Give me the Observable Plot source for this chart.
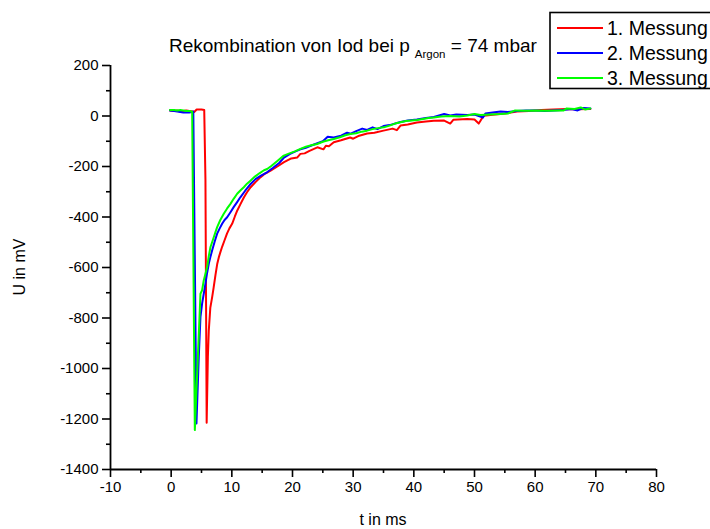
<!DOCTYPE html>
<html><head><meta charset="utf-8">
<script src="https://cdn.jsdelivr.net/npm/d3@7"></script>
<script src="https://cdn.jsdelivr.net/npm/@observablehq/plot@0.6"></script>
<style>
html,body{margin:0;padding:0;background:#fff;overflow:hidden;}
#chart{position:relative;width:710px;height:529px;overflow:hidden;}
</style></head><body><div id="chart"></div>
<script>
// Series 1 (red)
const t1 = [-0.2,0.5,1.0,1.5,2.0,2.5,3.0,3.5,3.8,4.2,4.6,5.0,5.45,5.65,5.85,6.05,6.2,6.45,6.75,7.0,7.3,7.6,7.85,8.1,8.4,8.8,9.2,9.6,10.05,10.5,10.9,11.4,12.0,12.5,13.1,13.9,14.7,15.5,16.4,17.5,18.6,19.8,20.8,21.3,22.0,22.8,24.1,25.1,25.5,26.0,26.8,28.0,29.5,30.0,31.0,32.3,33.5,35.0,36.5,37.2,37.8,39.0,40.5,42.0,43.3,45.0,46.0,46.5,48.8,50.0,50.7,51.5,53.0,55.0,57.0,59.0,61.0,63.0,65.3,67.0,69.1];
const u1 = [22,20,22,18,20,22,20,18,16,26,26,26,24,-250,-1215,-954,-850,-760,-718,-680,-630,-585,-560,-540,-518,-492,-466,-445,-427,-398,-374,-350,-322,-302,-282,-262,-243,-228,-216,-200,-183,-168,-164,-150,-148,-138,-124,-132,-118,-120,-104,-96,-85,-90,-78,-69,-66,-58,-50,-56,-38,-34,-26,-22,-19,-18,-30,-15,-12,-14,-30,1,5,10,18,20,24,26,28,27,28];
// Series 2 (blue)
const t2 = [-0.2,0.5,1.0,1.5,2.0,2.5,3.0,3.4,3.65,4.17,4.55,4.83,5.1,5.4,5.65,5.9,6.2,6.5,6.76,7.2,7.58,8.0,8.4,8.8,9.23,9.8,10.3,10.9,11.4,12.2,13.1,13.9,14.8,15.8,16.8,17.8,18.6,19.6,20.5,21.3,22.2,23.0,24.1,25.0,25.8,26.8,28.0,29.0,29.6,30.5,31.5,32.3,33.2,34.0,35.0,36.0,37.8,39.0,40.5,42.0,43.3,45.0,46.0,47.0,48.8,50.0,51.4,51.8,53.0,54.3,55.5,57.0,58.5,60.0,61.5,63.0,64.5,66.0,67.0,68.0,69.1];
const u2 = [22,20,18,16,14,14,14,16,18,-1218,-954,-796,-743,-700,-664,-625,-585,-555,-532,-495,-466,-445,-427,-412,-401,-380,-361,-340,-322,-296,-269,-250,-236,-223,-205,-186,-165,-150,-140,-132,-126,-118,-108,-100,-82,-85,-78,-66,-70,-60,-50,-55,-45,-52,-40,-36,-24,-18,-14,-8,-4,8,2,6,4,6,-6,10,14,18,16,20,22,22,20,22,24,28,22,32,30];
// Series 3 (green)
const t3 = [-0.2,0.5,1.0,1.5,2.0,2.5,3.0,3.3,3.46,3.9,4.83,5.1,5.37,5.65,5.93,6.2,6.48,6.75,7.02,7.3,7.58,8.1,8.67,9.2,9.77,10.3,10.88,11.4,11.97,12.5,13.07,13.8,14.6,15.3,15.82,16.5,17.5,18.56,19.5,20.4,21.3,22.2,23.1,24.06,25.0,25.9,26.8,27.8,28.7,29.55,30.5,31.4,32.3,33.2,34.1,35.04,36.0,36.9,37.8,38.7,39.6,40.55,41.5,42.4,43.3,44.5,46.0,47.5,48.8,50.0,51.0,52.5,54.3,55.5,56.7,58.0,60.0,62.0,64.0,64.7,65.2,66.5,67.5,68.2,69.1];
const u3 = [24,24,22,24,22,20,20,18,16,-1244,-704,-690,-651,-625,-598,-555,-519,-500,-480,-460,-440,-412,-387,-367,-348,-328,-308,-295,-282,-268,-256,-240,-226,-215,-210,-198,-178,-157,-148,-140,-130,-122,-116,-111,-102,-96,-91,-84,-76,-71,-68,-62,-58,-52,-48,-45,-38,-30,-25,-20,-18,-16,-12,-8,-6,-2,0,-2,2,8,4,6,8,10,22,21,22,21,22,22,30,28,34,26,30];

const seriesNames = ["1. Messung","2. Messung","3. Messung"];
const seriesColors = ["#ff0000","#0000ff","#00ff00"];
const xTicks = [-10,0,10,20,30,40,50,60,70,80];
const xMinor = [-5,5,15,25,35,45,55,65,75];
const yTicks = [-1400,-1200,-1000,-800,-600,-400,-200,0,200];
const yMinor = [-1300,-1100,-900,-700,-500,-300,-100,100];

const series = [[t1,u1],[t2,u2],[t3,u3]];
const data = series.flatMap(([ts,us],k) => ts.map((t,i) => ({t, u: us[i], s: seriesNames[k]})));

const font = "'Liberation Sans', Arial, sans-serif";
const plot = Plot.plot({
  width: 710, height: 529,
  marginLeft: 110, marginRight: 54, marginTop: 65, marginBottom: 60,
  style: {fontFamily: font, fontSize: "15px", background: "white", color: "black"},
  x: {domain: [-10, 80]},
  y: {domain: [-1400, 200]},
  color: {domain: seriesNames, range: seriesColors},
  marks: [
    Plot.axisX({ticks: xTicks, tickSize: 8, tickPadding: 4, tickFormat: d => String(d), label: null, strokeWidth: 1.6, fontSize: 15}),
    Plot.axisX({ticks: xMinor, tickSize: 4, tickFormat: () => "", label: null, strokeWidth: 1.6}),
    Plot.axisY({ticks: yTicks, tickSize: 8, tickPadding: 4, tickFormat: d => String(d), label: null, strokeWidth: 1.6, fontSize: 15}),
    Plot.axisY({ticks: yMinor, tickSize: 4, tickFormat: () => "", label: null, strokeWidth: 1.6}),
    Plot.ruleY([-1400], {stroke: "black", strokeWidth: 1.8}),
    Plot.ruleX([-10], {stroke: "black", strokeWidth: 1.8}),
    Plot.line(data, {x: "t", y: "u", z: "s", stroke: "s", strokeWidth: 2})
  ]
});
document.getElementById("chart").appendChild(plot);

const svg = d3.select(plot);
// axis titles
svg.append("text").attr("x", 383).attr("y", 525).attr("text-anchor", "middle")
  .attr("font-family", font).attr("font-size", 16).attr("fill", "black").text("t in ms");
svg.append("text").attr("transform", "translate(25,267) rotate(-90)").attr("text-anchor", "middle")
  .attr("font-family", font).attr("font-size", 16).attr("fill", "black").text("U in mV");
// title
const title = svg.append("text").attr("x", 169).attr("y", 52).attr("text-anchor", "start")
  .attr("font-family", font).attr("font-size", 19).attr("fill", "black");
title.append("tspan").text("Rekombination von Iod bei p");
title.append("tspan").attr("font-size", 11.5).attr("dy", 6).attr("dx", 5).text("Argon");
title.append("tspan").attr("dy", -6).text(" = 74 mbar");
// legend
const lg = svg.append("g");
lg.append("rect").attr("x", 550).attr("y", 12.5).attr("width", 200).attr("height", 76)
  .attr("fill", "white").attr("stroke", "black").attr("stroke-width", 1.6);
seriesNames.forEach((name, i) => {
  const y = 28 + i * 25;
  lg.append("line").attr("x1", 557).attr("x2", 603).attr("y1", y).attr("y2", y)
    .attr("stroke", seriesColors[i]).attr("stroke-width", 2);
  lg.append("text").attr("x", 607).attr("y", y + 7).attr("text-anchor", "start").attr("font-family", font)
    .attr("font-size", 19.5).attr("fill", "black").text(name);
});
</script></body></html>
